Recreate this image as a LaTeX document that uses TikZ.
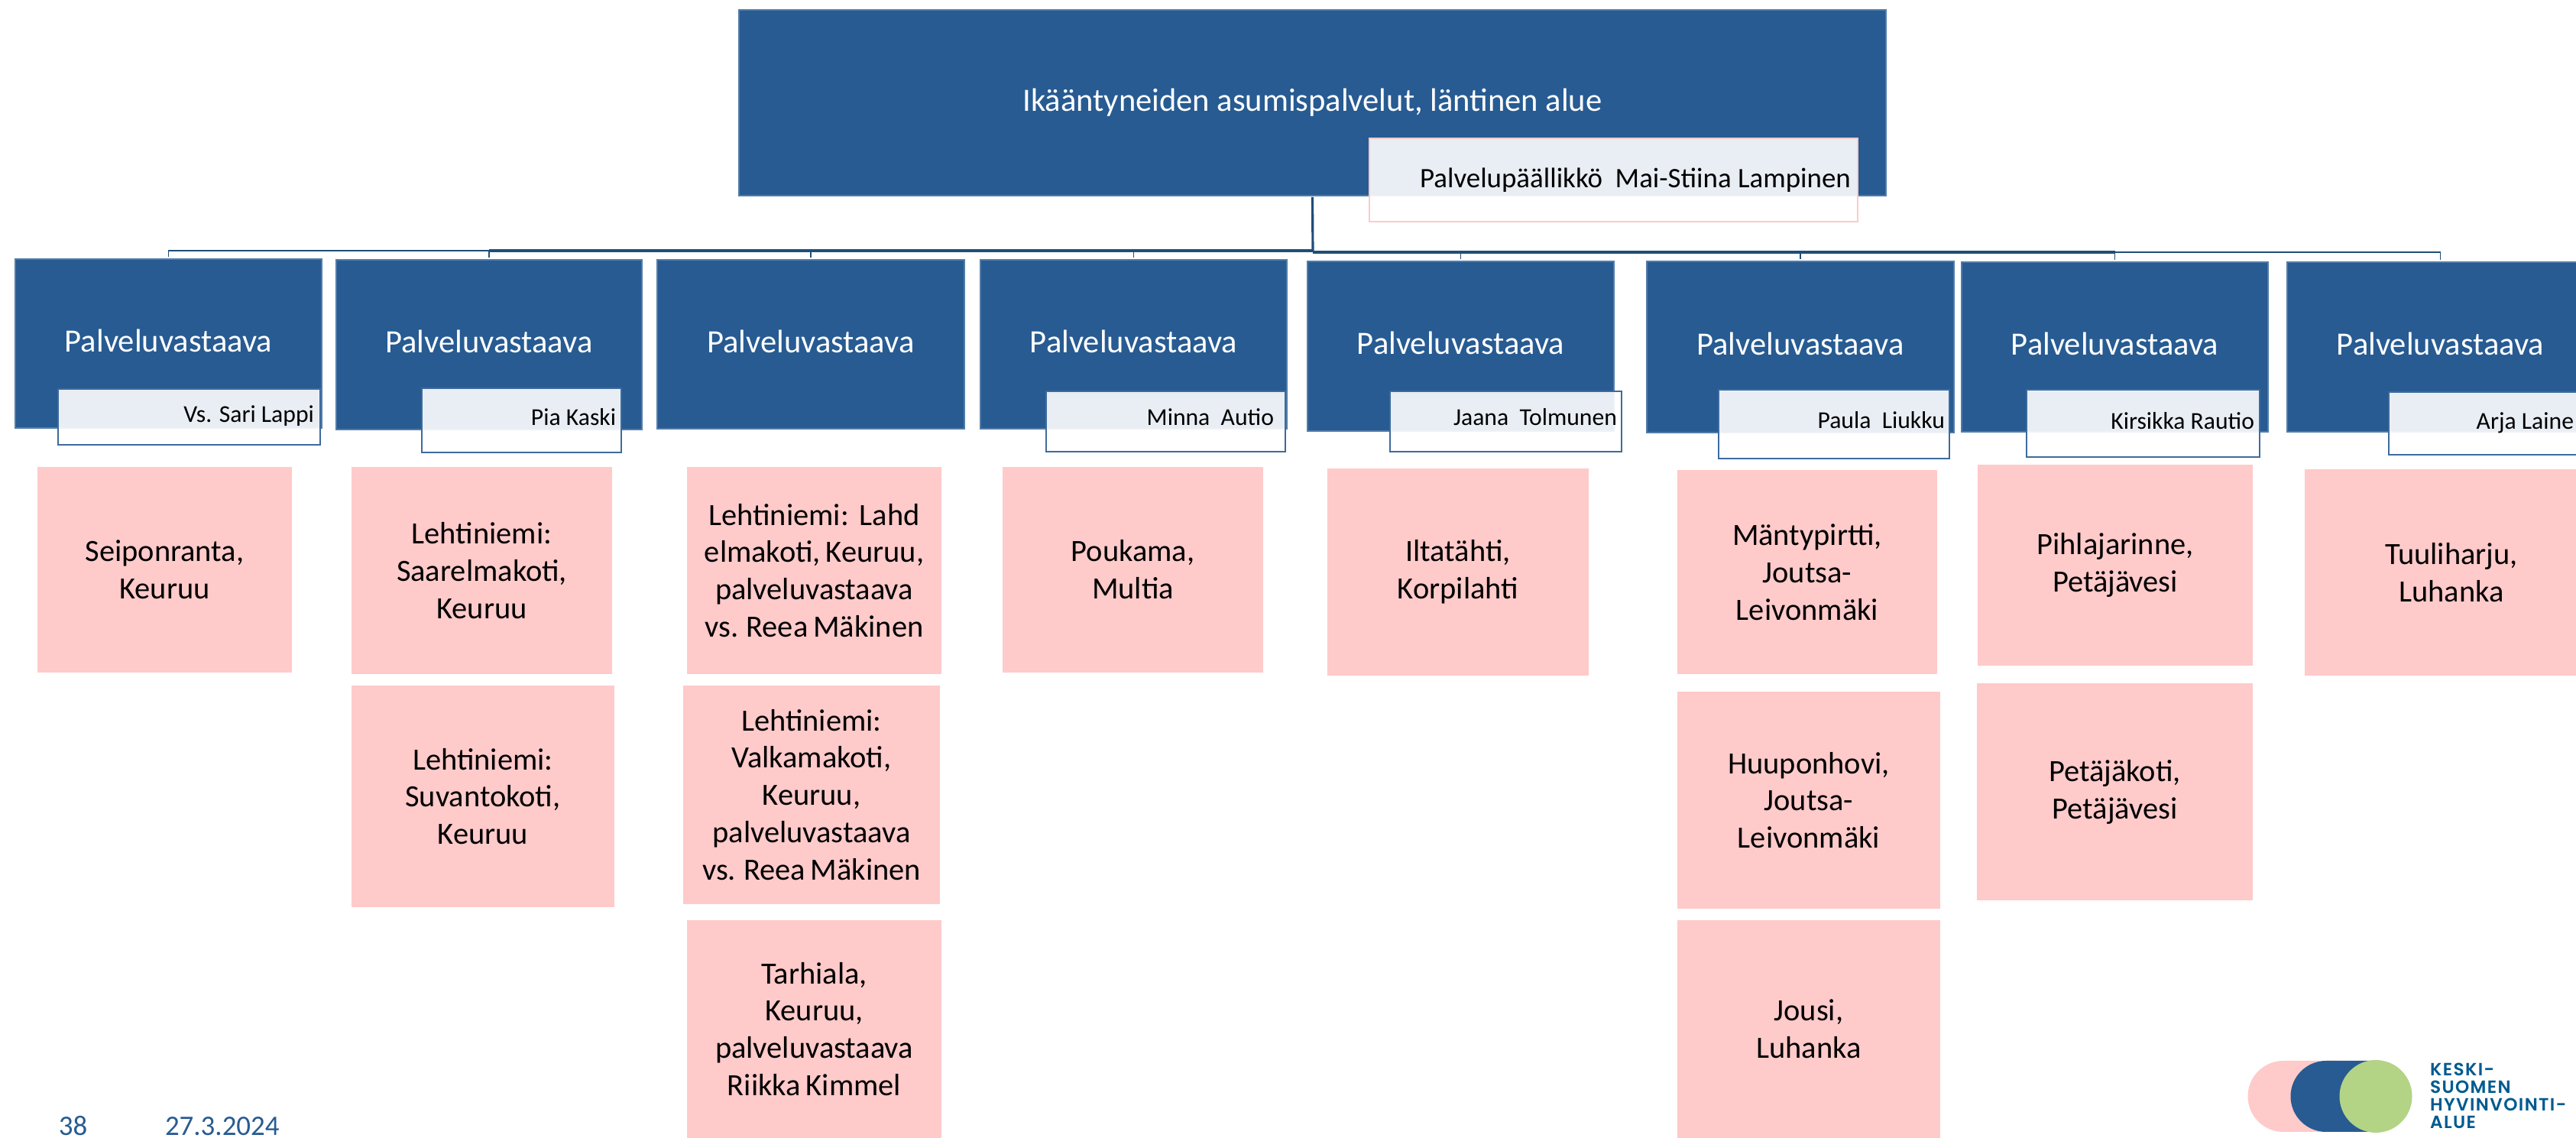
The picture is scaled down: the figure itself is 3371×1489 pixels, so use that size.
\documentclass[tikz,border=0pt]{standalone}
\usepackage{fontspec}
\setmainfont{Carlito}
\newfontfamily\pinkfont[WordSpace=0.75]{Carlito}
\newfontfamily\logofont[LetterSpace=6]{Poppins SemiBold}
\definecolor{hvblue}{HTML}{275B92}
\definecolor{hvedge}{HTML}{1F4E79}
\definecolor{hvpink}{HTML}{FFCACA}
\definecolor{hvgreen}{HTML}{B3D385}
\definecolor{hvlogo}{HTML}{005A8F}
\newcommand\boxat[7]{%
  \node[#2,minimum width={(#5-#3)*0.01cm},minimum height={(#6-#4)*0.01cm}] (#1) at ({(#3+#5)/2},{(#4+#6)/2}) {#7};}
\tikzset{
  x=0.01cm,y=-0.01cm,
  allbox/.style={inner sep=0pt,outer sep=0pt,align=center},
  titlebox/.style={allbox,fill=hvblue,draw=hvblue!80!white,line width=0.3pt,text=white,font=\fontsize{12.1}{15}\selectfont},
  headbox/.style={titlebox,text depth=2.4pt},
  subbox/.style={allbox,fill=white,fill opacity=.9,text opacity=1,draw=hvblue!90!white,line width=0.7pt},
  mgrbox/.style={subbox,draw=hvpink},
  nametext/.style={inner sep=0pt,outer sep=0pt,anchor=base east,text=black,font=\fontsize{9}{11}\selectfont},
  pinkbox/.style={allbox,fill=hvpink,text=black,font=\pinkfont\fontsize{11.5}{13.9}\selectfont},
  bus/.style={draw=hvedge,line width=0.9pt},
  thinbus/.style={draw=hvedge,line width=0.55pt,shorten >=0.03cm},
  foot/.style={inner sep=0pt,outer sep=0pt,anchor=base west,text=hvblue,font=\fontsize{10.5}{12}\selectfont},
  logotext/.style={inner sep=0pt,outer sep=0pt,anchor=base west,text=hvlogo,font=\logofont\fontsize{6.6}{8}\selectfont},
}
\begin{document}
\begin{tikzpicture}
\useasboundingbox (0,0) rectangle (3371,1489);
\clip (0,0) rectangle (3371,1489);
% top
\boxat{top}{titlebox}{967}{13}{2468}{256}{Ikääntyneiden asumispalvelut, läntinen alue}
\boxat{topsub}{mgrbox}{1792}{181}{2431}{290}{}
\node[nametext,font=\fontsize{10.5}{13}\selectfont] (topname) at (2422,246) {Palvelupäällikkö\ \ Mai-Stiina Lampinen};
% service managers
\boxat{b1}{headbox}{20}{339}{421}{560}{Palveluvastaava}
\boxat{b2}{headbox}{440}{340}{840}{562}{Palveluvastaava}
\boxat{b3}{headbox}{860}{340}{1262}{561}{Palveluvastaava}
\boxat{b4}{headbox}{1283}{340}{1684}{561}{Palveluvastaava}
\boxat{b5}{headbox}{1711}{342}{2112}{564}{Palveluvastaava}
\boxat{b6}{headbox}{2155}{342}{2557}{566}{Palveluvastaava}
\boxat{b7}{headbox}{2567}{343}{2968}{565}{Palveluvastaava}
\boxat{b8}{headbox}{2993}{343}{3394}{565}{Palveluvastaava}
% name plates
\boxat{s1}{subbox}{76}{509}{419}{582}{}
\boxat{s2}{subbox}{552}{508}{813}{592}{}
\boxat{s4}{subbox}{1369}{512}{1682}{591}{}
\boxat{s5}{subbox}{1819}{512}{2122}{591}{}
\boxat{s6}{subbox}{2249}{510}{2551}{600}{}
\boxat{s7}{subbox}{2652}{510}{2957}{598}{}
\boxat{s8}{subbox}{3126}{513}{3400}{595}{}
\node[nametext] (n1) at (411,553) {Vs. Sari Lappi};
\node[nametext] (n2) at (806,557) {Pia Kaski};
\node[nametext] (n4) at (1667,557) {Minna\ \ Autio};
\node[nametext] (n5) at (2116,557) {Jaana\ \ Tolmunen};
\node[nametext] (n6) at (2545,561) {Paula\ \ Liukku};
\node[nametext] (n7) at (2950,562) {Kirsikka Rautio};
\node[nametext] (n8) at (3368,562) {Arja Laine};
% units
\boxat{p1}{pinkbox}{49}{611}{382}{880}{Seiponranta,\\Keuruu}
\boxat{p2a}{pinkbox}{460}{611}{801}{882}{Lehtiniemi:\\Saarelmakoti,\\Keuruu}
\boxat{p2b}{pinkbox}{460}{897}{804}{1187}{Lehtiniemi:\\Suvantokoti,\\Keuruu}
\boxat{p3a}{pinkbox}{899}{611}{1232}{882}{Lehtiniemi:\ \ Lahd\\elmakoti, Keuruu,\\palveluvastaava\\vs. Reea Mäkinen}
\boxat{p3b}{pinkbox}{894}{897}{1230}{1183}{Lehtiniemi:\\Valkamakoti,\\Keuruu,\\palveluvastaava\\vs. Reea Mäkinen}
\boxat{p3c}{pinkbox}{899}{1204}{1232}{1489}{Tarhiala,\\Keuruu,\\palveluvastaava\\Riikka Kimmel}
\boxat{p4}{pinkbox}{1312}{611}{1653}{880}{Poukama,\\Multia}
\boxat{p5}{pinkbox}{1737}{613}{2079}{884}{Iltatähti,\\Korpilahti}
\boxat{p6a}{pinkbox}{2195}{615}{2535}{882}{Mäntypirtti,\\Joutsa-\\Leivonmäki}
\boxat{p6b}{pinkbox}{2195}{905}{2539}{1189}{Huuponhovi,\\Joutsa-\\Leivonmäki}
\boxat{p6c}{pinkbox}{2195}{1204}{2539}{1489}{Jousi,\\Luhanka}
\boxat{p7a}{pinkbox}{2588}{608}{2948}{871}{Pihlajarinne,\\Petäjävesi}
\boxat{p7b}{pinkbox}{2587}{894}{2948}{1178}{Petäjäkoti,\\Petäjävesi}
\boxat{p8}{pinkbox}{3016}{614}{3400}{884}{Tuuliharju,\\Luhanka}
% connectors
\coordinate (busl) at (1718,328);
\coordinate (busr) at (1718,330);
\draw[bus] (top.south) ++(0,2) -- (busr);
\foreach \n in {b1,b2,b3,b4}{\draw[thinbus] (busl) -| (\n.north);}
\foreach \n in {b5,b6,b7,b8}{\draw[thinbus] (busr) -| (\n.north);}
\draw[bus] (b2.north|-busl) -- (busl);
\draw[bus] (busr) -- (b7.north|-busr);
% footer
\node[foot] (num) at (77,1486) {38};
\node[foot] (date) at (216,1486) {27.3.2024};
% logo
\fill[hvpink] (2988,1388) arc[start angle=-90,end angle=-270,radius=46.5] -- (3060,1481) -- (3060,1388) -- cycle;
\fill[hvblue] (3044,1388) arc[start angle=-90,end angle=-270,radius=46.5] -- (3109,1481) -- (3109,1388) -- cycle;
\fill[hvgreen] (3109,1434.5) circle[radius=47.5];
\node[logotext] (l1) at (3180,1408) {KESKI-};
\node[logotext] (l2) at (3180,1431) {SUOMEN};
\node[logotext] (l3) at (3180,1454) {HYVINVOINTI-};
\node[logotext] (l4) at (3180,1477) {ALUE};
\end{tikzpicture}
\end{document}
